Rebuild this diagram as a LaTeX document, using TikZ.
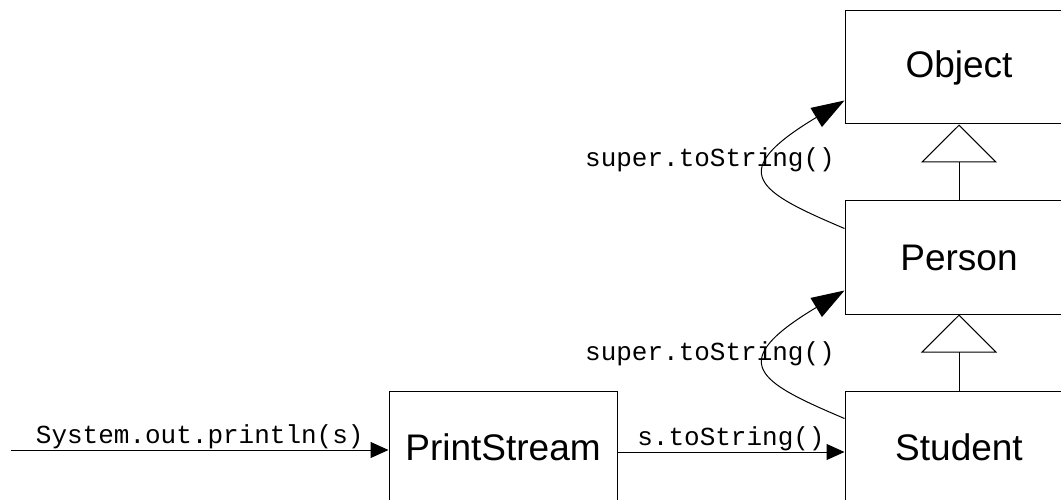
\documentclass[tikz,border=0pt]{standalone}
\usepackage{fontspec}
\setmainfont{Liberation Sans}
\setmonofont{Liberation Mono}
\usetikzlibrary{positioning, arrows.meta}

\begin{document}
\begin{tikzpicture}[
  x=1pt, y=1pt,
  node distance=76pt,
  cls/.style={rectangle, draw=black, line width=1pt, minimum width=228pt, minimum height=113pt, inner sep=0pt, font=\fontsize{37}{40}\selectfont},
  call/.style={font=\ttfamily\fontsize{26}{28}\selectfont, anchor=base, inner sep=0pt},
  msg/.style={-{Triangle[length=18pt, width=16pt]}, line width=1pt},
  supercall/.style={-{Triangle[length=33pt, width=22pt]}, line width=1pt},
  inherit/.style={-{Triangle[open, length=38pt, width=76pt]}, line width=1pt}
]
\useasboundingbox (0,0) rectangle (1061,499);
\clip (0,0) rectangle (1061,499);

\node[cls] (object) at (959,431.5) {Object};
\node[cls, below=of object] (person) {Person};
\node[cls, below=of person] (student) {Student};
\node[cls, left=227pt of student] (stream) {PrintStream};

% generalisation
\draw[inherit] (person.north) -- (object.south);
\draw[inherit] (student.north) -- (person.south);

% messages
\coordinate (caller) at (11,49);
\draw[msg] (caller) -- (caller -| stream.west)
  node[call, midway, yshift=7pt] (println) {System.out.println(s)};
\draw[msg] ([yshift=-4.5pt]stream.east) -- ([yshift=-4.5pt]student.west)
  node[call, midway, yshift=7pt] (tostring) {s.toString()};

% calls up the hierarchy
\draw[supercall] ([yshift=-28pt]student.north west) .. controls +(157:95) and +(211:140) .. ([yshift=24pt]person.south west);
\draw[supercall] ([yshift=-28pt]person.north west) .. controls +(157:95) and +(211:140) .. ([yshift=24pt]object.south west);
\node[call] (super1) at (710,139) {super.toString()};
\node[call] (super2) at (710,332) {super.toString()};

\end{tikzpicture}
\end{document}
